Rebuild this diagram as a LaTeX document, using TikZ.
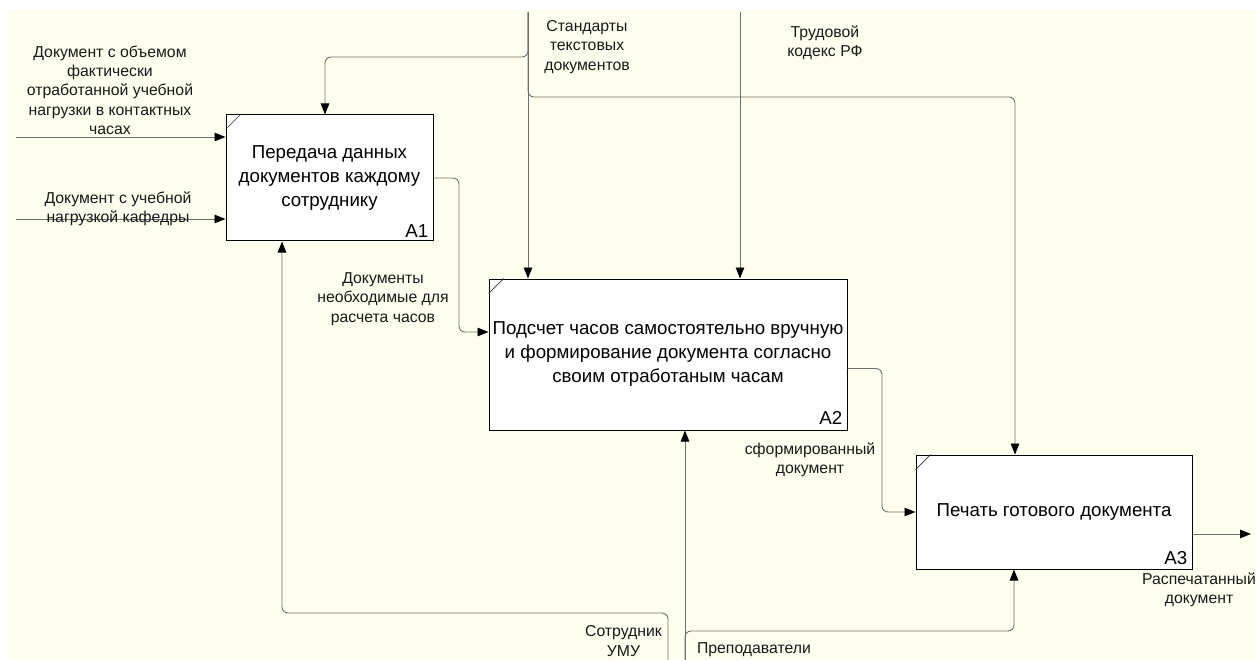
\documentclass[tikz,border=0pt]{standalone}
\usepackage{fontspec}
\setmainfont{Liberation Sans}
\usetikzlibrary{arrows.meta}
\definecolor{cream}{HTML}{FFFFF0}
\definecolor{wirec}{HTML}{707070}
\tikzset{
  box/.style={draw=black, line width=1pt, fill=white, inner sep=0pt, align=center,
    font=\fontsize{18.7}{24}\selectfont},
  lbl/.style={align=center, inner sep=0pt, font=\fontsize{15.8}{19.3}\selectfont, text=black!90},
  boxid/.style={anchor=south east, inner sep=0pt, font=\fontsize{18.7}{22}\selectfont},
  wire/.style={draw=wirec, line width=0.9pt, rounded corners=6pt},
  arr/.style={wire, -{Triangle[length=11pt,width=8.5pt,color=black]}},
  corner/.style={draw=black!80, line width=0.7pt},
}
\begin{document}
\begin{tikzpicture}[x=1pt,y=-1pt]
\useasboundingbox (0,0) rectangle (1257,660);
\fill[white] (0,0) rectangle (1257,660);
\fill[cream] (8,10) rectangle (1257,660);

% boxes
\node[box, minimum width=207pt, minimum height=126pt] (A1) at (329.5,178)
  {Передача данных\\документов каждому\\сотруднику};
\node[box, minimum width=358pt, minimum height=151pt] (A2) at (668,354.5)
  {Подсчет часов самостоятельно вручную\\и формирование документа согласно\\своим отработаным часам};
\node[box, minimum width=276pt, minimum height=114pt] (A3) at (1054,512)
  {Печать готового документа};

\draw[corner] ([yshift=-15pt]A1.north west) -- ([xshift=15pt]A1.north west);
\draw[corner] ([yshift=-15pt]A2.north west) -- ([xshift=15pt]A2.north west);
\draw[corner] ([yshift=-15pt]A3.north west) -- ([xshift=15pt]A3.north west);

\node[boxid] (A1id) at ([xshift=-5pt,yshift=4pt]A1.south east) {A1};
\node[boxid] (A2id) at ([xshift=-5pt,yshift=6pt]A2.south east) {A2};
\node[boxid] (A3id) at ([xshift=-5pt,yshift=5pt]A3.south east) {A3};

% free ends
\coordinate (in1) at (16,137);
\coordinate (in2) at (16,219);
\coordinate (std) at (528,12);
\coordinate (trud) at (740,12);
\coordinate (sotr) at (668,660);
\coordinate (prep) at (685,660);
\coordinate (out) at (1251,534);

% inputs
\draw[arr] (in1) -- (in1 -| A1.west);
\draw[arr] (in2) -- (in2 -| A1.west);

% controls
\draw[arr] (std) -- (std |- A2.north);
\draw[arr] (std) -- (528,57) -- (325,57) -- ([xshift=-4.5pt]A1.north);
\draw[arr] (std) -- (528,97) -- (1015,97) -- ([xshift=-39pt]A3.north);
\draw[arr] (trud) -- (trud |- A2.north);

% outputs
\draw[arr] (A1.east) -- (459,178) -- (459,332) -- ([yshift=22.5pt]A2.west);
\draw[arr] ([yshift=-14pt]A2.east) -- (882,368.5) -- (882,512) -- (A3.west);
\draw[arr] ([yshift=-22pt]A3.east) -- (out);

% mechanisms
\draw[arr] (sotr) -- (668,613) -- (282,613) -- ([xshift=-47.5pt]A1.south);
\draw[arr] (prep) -- ([xshift=17pt]A2.south);
\draw[arr] (prep) -- (685,631) -- (1014,631) -- ([xshift=-40pt]A3.south);

% labels
\node[lbl] (L1) at (110,90) {Документ с объемом\\фактически\\отработанной учебной\\нагрузки в контактных\\часах};
\node[lbl] (L2) at (118,209) {Документ с учебной\\нагрузкой кафедры};
\node[lbl] (L3) at (587,47) {Стандарты\\текстовых\\документов};
\node[lbl] (L4) at (825,43) {Трудовой\\кодекс РФ};
\node[lbl] (L5) at (383,299) {Документы\\необходимые для\\расчета часов};
\node[lbl] (L6) at (810,460) {сформированный\\документ};
\node[lbl] (L7) at (1199,590) {Распечатанный\\документ};
\node[lbl] (L8) at (623.5,641) {Сотрудник\\УМУ};
\node[lbl] (L9) at (754,650) {Преподаватели};
\end{tikzpicture}
\end{document}
